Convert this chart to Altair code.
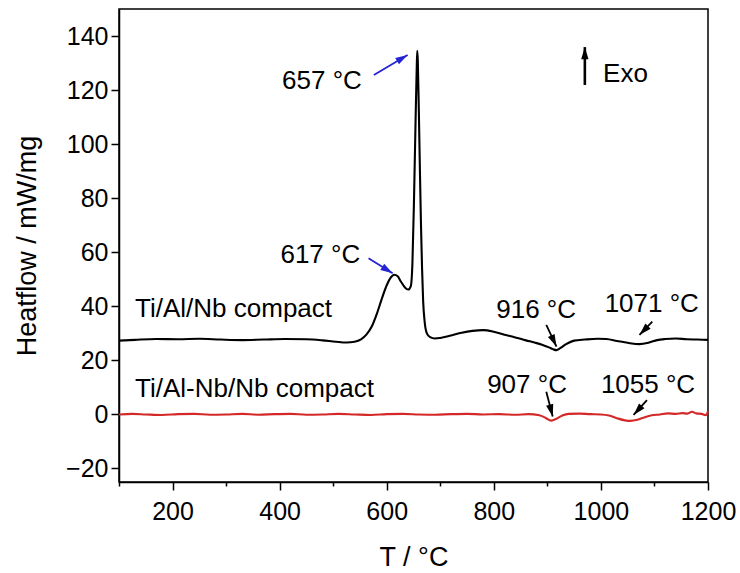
import math
import altair as alt
import pandas as pd

FONT = "Liberation Sans"

# Ti/Al/Nb compact: temperature (°C) and heat flow (mW/mg)
t_black = [100, 130, 170, 210, 250, 290, 330, 370, 410, 450, 480, 505, 525, 540,
           552, 562, 572, 582, 592, 600, 607, 614, 620, 627, 634, 640, 645, 648,
           651, 654, 656, 657, 658, 660, 662, 664, 666, 668, 671, 675, 681, 690,
           700, 720, 740, 760, 780, 800, 820, 840, 860, 876, 890, 903, 912, 917,
           924, 935, 950, 970, 994, 1010, 1030, 1050, 1072, 1090, 1105, 1120,
           1140, 1160, 1180, 1200]
hf_black = [27.3, 27.6, 27.9, 27.8, 28.0, 27.7, 27.5, 27.7, 27.9, 27.8, 27.4, 26.9,
            26.6, 26.9, 27.8, 29.5, 32.5, 37.5, 43.5, 47.8, 50.5, 51.7, 51.2, 49.0,
            47.0, 46.2, 47.5, 56.0, 80.0, 110.0, 128.0, 134.5, 131.0, 112.0, 90.0,
            70.0, 54.0, 42.0, 34.0, 30.0, 28.6, 28.1, 28.3, 29.2, 30.2, 30.9, 31.2,
            30.6, 29.5, 28.5, 27.4, 26.6, 25.8, 24.8, 24.0, 23.8, 24.5, 26.0, 27.3,
            27.7, 28.0, 27.9, 27.2, 26.5, 26.0, 26.6, 27.5, 27.9, 28.1, 27.8, 27.7,
            27.6]

# Ti/Al-Nb/Nb compact
t_red = [100, 125, 150, 180, 210, 240, 270, 300, 330, 360, 390, 420, 450, 480, 510,
         540, 570, 600, 630, 660, 690, 720, 750, 780, 810, 840, 865, 885, 897, 907,
         917, 928, 940, 960, 980, 1000, 1015, 1030, 1045, 1055, 1068, 1082, 1095,
         1110, 1125, 1140, 1152, 1162, 1170, 1178, 1188, 1196, 1200]
hf_red = [0.0, 0.2, 0.0, -0.2, 0.1, 0.2, -0.1, 0.0, 0.2, -0.1, 0.1, 0.2, -0.1, 0.0,
          0.2, 0.0, -0.2, 0.1, 0.2, 0.0, -0.1, 0.1, 0.2, 0.0, 0.1, -0.1, 0.1, -0.3,
          -1.3, -2.3, -1.6, -0.4, 0.2, 0.3, 0.1, 0.0, -0.4, -1.4, -2.2, -2.4, -2.0,
          -1.0, -0.3, 0.0, 0.4, 0.2, 0.5, 0.3, 1.0, 0.4, 0.2, -0.3, 1.1]

# Centered peak labels (x = centre, y = text baseline)
peak_text = ["657 °C", "617 °C", "916 °C", "1071 °C", "907 °C", "1055 °C"]
peak_t = [479, 476, 879, 1095, 862, 1088]
peak_hf = [120.3, 56.0, 35.7, 37.9, 7.9, 7.9]

# Left-aligned labels
side_text = ["Ti/Al/Nb compact", "Ti/Al-Nb/Nb compact", "Exo"]
side_t = [130, 130, 1004]
side_hf = [36.1, 6.5, 123.0]

# Arrows: tail (t1, hf1) -> head (t2, hf2)
arrow_t1 = [576, 566, 898, 1096, 898, 1086, 970]
arrow_hf1 = [125.6, 57.8, 33.1, 34.3, 8.4, 5.3, 121.9]
arrow_t2 = [639, 611, 917, 1072, 910, 1061, 970]
arrow_hf2 = [133.0, 52.2, 25.1, 29.4, -0.8, -0.2, 135.9]
arrow_col = ["#2424d4", "#2424d4", "black", "black", "black", "black", "black"]
arrow_w = [1.8, 1.8, 1.8, 1.8, 1.8, 1.8, 2.6]

X_DOM = [100, 1200]
Y_DOM = [-25, 150]
W, H = 589, 473

sx = W / (X_DOM[1] - X_DOM[0])
sy = H / (Y_DOM[1] - Y_DOM[0])

curves = pd.concat([
    pd.DataFrame({"T": t_black, "hf": hf_black, "s": "Ti/Al/Nb"}),
    pd.DataFrame({"T": t_red, "hf": hf_red, "s": "Ti/Al-Nb/Nb"}),
])
peaks = pd.DataFrame({"T": peak_t, "hf": peak_hf, "label": peak_text})
sides = pd.DataFrame({"T": side_t, "hf": side_hf, "label": side_text})

arrows = pd.DataFrame({"t1": arrow_t1, "hf1": arrow_hf1, "t2": arrow_t2,
                       "hf2": arrow_hf2, "col": arrow_col, "w": arrow_w})
# rotation of each arrowhead in screen space (clockwise from "up")
arrows["angle"] = [
    math.degrees(math.atan2((b - a) * sx, (d - c) * sy)) % 360
    for a, b, c, d in zip(arrows.t1, arrows.t2, arrows.hf1, arrows.hf2)
]

x_scale = alt.Scale(domain=X_DOM, nice=False, zero=False)
y_scale = alt.Scale(domain=Y_DOM, nice=False, zero=False)

x_axis = alt.Axis(
    values=list(range(100, 1201, 100)), format="d",
    labelExpr="datum.value % 200 == 0 ? datum.label : ''",
    tickSize={"condition": {"test": "datum.value % 200 == 0", "value": 8}, "value": 4},
    labelOverlap=False, labelFlush=False, grid=False,
    labelPadding=9, titlePadding=20, title="T / °C",
)
y_axis = alt.Axis(
    values=list(range(-20, 141, 10)), format="d",
    labelExpr="datum.value % 20 == 0 ? datum.label : ''",
    tickSize={"condition": {"test": "datum.value % 20 == 0", "value": 8}, "value": 4},
    labelOverlap=False, labelFlush=False, grid=False,
    labelPadding=3, titlePadding=24, title="Heatflow / mW/mg",
)

lines = alt.Chart(curves).mark_line(strokeWidth=2.1, interpolate="monotone").encode(
    x=alt.X("T:Q", scale=x_scale, axis=x_axis),
    y=alt.Y("hf:Q", scale=y_scale, axis=y_axis),
    color=alt.Color("s:N", scale=alt.Scale(domain=["Ti/Al/Nb", "Ti/Al-Nb/Nb"],
                                           range=["black", "#d42828"]), legend=None),
    detail="s:N",
)

peak_labels = alt.Chart(peaks).mark_text(
    font=FONT, fontSize=26, align="center", baseline="alphabetic", color="black"
).encode(x="T:Q", y="hf:Q", text="label:N")

side_labels = alt.Chart(sides).mark_text(
    font=FONT, fontSize=26, align="left", baseline="alphabetic", color="black"
).encode(x="T:Q", y="hf:Q", text="label:N")

shafts = alt.Chart(arrows).mark_rule().encode(
    x="t1:Q", y="hf1:Q", x2="t2:Q", y2="hf2:Q",
    color=alt.Color("col:N", scale=None),
    strokeWidth=alt.StrokeWidth("w:Q", scale=None),
)
heads = alt.Chart(arrows).mark_point(
    shape="M0,0L-0.6,2L0.6,2Z", filled=True, opacity=1, size=150
).encode(
    x="t2:Q", y="hf2:Q",
    angle=alt.Angle("angle:Q", scale=None),
    color=alt.Color("col:N", scale=None),
)

chart = alt.layer(lines, shafts, heads, peak_labels, side_labels).properties(
    width=W, height=H,
    autosize=alt.AutoSizeParams(type="none"),
    padding={"left": 119, "top": 9, "right": 32, "bottom": 91},
    background="white",
).configure_view(
    stroke="black", strokeWidth=1.5
).configure_axis(
    domainColor="black", domainWidth=1.5, tickColor="black", tickWidth=1.5,
    labelFont=FONT, labelFontSize=25, labelColor="black",
    titleFont=FONT, titleFontSize=27, titleFontWeight="normal", titleColor="black",
)

chart.save("out.html", embed_options={"renderer": "svg", "actions": False})
